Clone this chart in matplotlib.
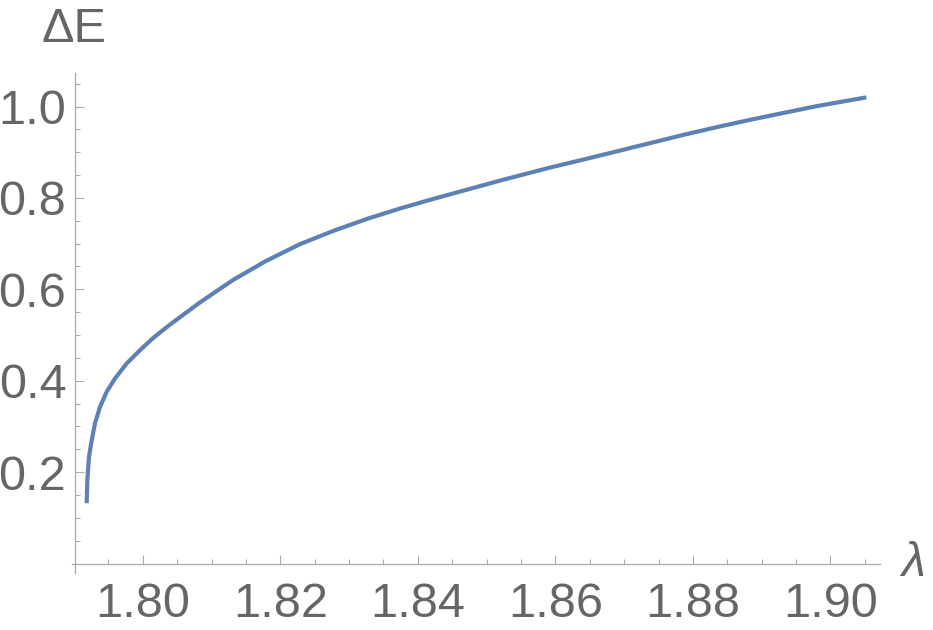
import matplotlib
matplotlib.use("Agg")
import matplotlib.pyplot as plt
from matplotlib.ticker import FixedLocator

# Data
lam = [1.79185, 1.79194, 1.79219, 1.79258, 1.79306, 1.79379, 1.79476, 1.79597,
       1.79767, 1.79961, 1.80154, 1.80397, 1.80640, 1.80828, 1.81318, 1.81804,
       1.82288, 1.82772, 1.83258, 1.83743, 1.84227, 1.84713, 1.85197, 1.85681,
       1.85924, 1.86409, 1.86895, 1.87379, 1.87863, 1.88349, 1.88834, 1.89318,
       1.89804, 1.90521]
dE = [0.132, 0.183, 0.234, 0.270, 0.307, 0.343, 0.376, 0.405,
      0.438, 0.467, 0.494, 0.523, 0.550, 0.571, 0.621, 0.663,
      0.699, 0.728, 0.754, 0.777, 0.798, 0.818, 0.838, 0.857,
      0.8665, 0.884, 0.902, 0.920, 0.938, 0.955, 0.971, 0.986,
      1.001, 1.020]

x_major = [1.80, 1.82, 1.84, 1.86, 1.88, 1.90]
x_labels = ["1.80", "1.82", "1.84", "1.86", "1.88", "1.90"]
y_major = [0.2, 0.4, 0.6, 0.8, 1.0]
y_labels = ["0.2", "0.4", "0.6", "0.8", "1.0"]
x_minor = [1.795, 1.805, 1.81, 1.815, 1.825, 1.83, 1.835, 1.845, 1.85, 1.855,
           1.865, 1.87, 1.875, 1.885, 1.89, 1.895, 1.905]
y_minor = [0.05, 0.1, 0.15, 0.25, 0.3, 0.35, 0.45, 0.5, 0.55, 0.65, 0.7, 0.75,
           0.85, 0.9, 0.95, 1.05]

plt.rcParams['font.family'] = ['Liberation Sans', 'DejaVu Sans']
text_col = '#666666'
axis_col = '#a8a8a8'
line_col = '#5e81b5'

W, H = 933, 630
fig = plt.figure(figsize=(W / 100, H / 100), dpi=100)
left_px, right_px, top_px, bot_px = 71.7, 880, 72.7, 573
ax = fig.add_axes([left_px / W, (H - bot_px) / H, (right_px - left_px) / W, (bot_px - top_px) / H])

ax.plot(lam, dE, color=line_col, lw=3.0, solid_capstyle='butt', solid_joinstyle='round')

ax.set_xlim(1.78967, 1.9072)
ax.set_ylim(-0.0206, 1.074)

for s in ['top', 'right']:
    ax.spines[s].set_visible(False)
ax.spines['left'].set_position(('data', 1.7902))
ax.spines['bottom'].set_position(('data', 0.0))
for s in ['left', 'bottom']:
    ax.spines[s].set_color(axis_col)
    ax.spines[s].set_linewidth(0.9)

ax.xaxis.set_major_locator(FixedLocator(x_major))
ax.set_xticklabels(x_labels)
ax.xaxis.set_minor_locator(FixedLocator(x_minor))
ax.yaxis.set_major_locator(FixedLocator(y_major))
ax.set_yticklabels(y_labels)
ax.yaxis.set_minor_locator(FixedLocator(y_minor))

ax.tick_params(axis='both', which='major', direction='in', length=6.8, width=0.75,
               color=axis_col, labelcolor=text_col, labelsize=35)
ax.tick_params(axis='both', which='minor', direction='in', length=3.8, width=0.75,
               color=axis_col)
ax.tick_params(axis='x', which='major', pad=13.5)
ax.tick_params(axis='y', which='major', pad=6.5)

fig.text(74 / W, 1 - 29 / H, 'ΔE', color=text_col, fontsize=35, ha='center', va='center')
fig.text(913 / W, 1 - 563 / H, 'λ', color=text_col, fontsize=35, ha='center', va='center',
         fontstyle='italic')

fig.savefig('out.png', dpi=100)
